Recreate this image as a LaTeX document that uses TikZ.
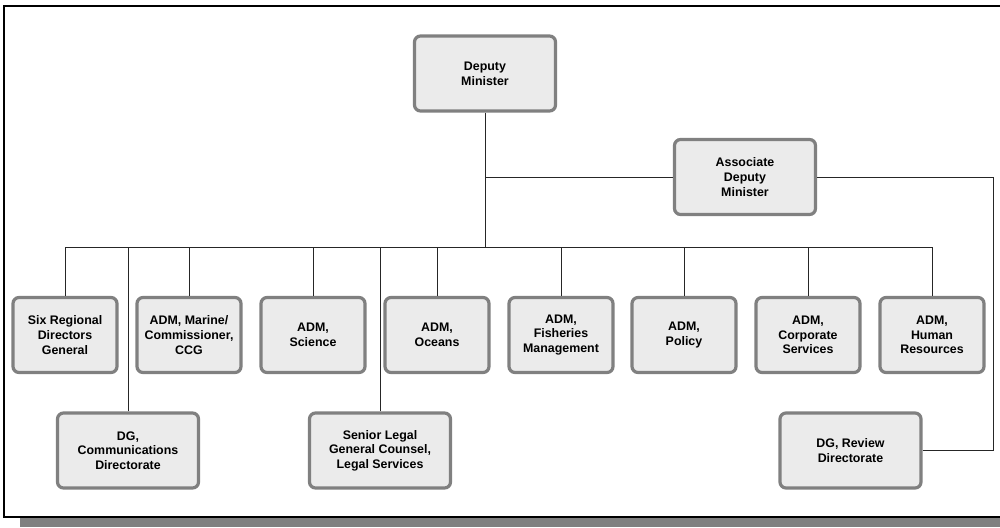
\documentclass[tikz,border=0pt]{standalone}
\usepackage{fontspec}
\setmainfont{Liberation Sans}
\usepackage{xcolor}

\tikzset{
  orgbox/.style={draw=black!50, line width=3.2pt, fill=black!8, rounded corners=6pt,
    align=center, font=\bfseries\fontsize{12.4}{14.6}\selectfont, inner sep=0pt},
  wide/.style={orgbox, minimum width=141pt, minimum height=75pt},
  narrow/.style={orgbox, minimum width=104pt, minimum height=75pt},
  link/.style={draw=black!85, line width=0.9pt}
}

\begin{document}
\begin{tikzpicture}[x=1pt,y=-1pt]
    \useasboundingbox (0,0) rectangle (1000,527);

    \begin{scope}
    \clip (0,0) rectangle (1000,527);
    % frame and its shadow
    \fill[black!50] (20,518) rectangle (1010,527);
    \draw[line width=1.6pt] (4,6) rectangle (1010,517);
    \end{scope}

    \node[wide] (dm) at (485,73.5) {Deputy\\Minister};
    \node[wide] (adm) at (745,177) {Associate\\Deputy\\Minister};

    \node[narrow] (rdg) at (65,335) {Six Regional\\Directors\\General};
    \node[narrow] (ccg) at (189,335) {ADM, Marine/\\Commissioner,\\CCG};
    \node[narrow] (sci) at (313,335) {ADM,\\Science};
    \node[narrow] (oce) at (437,335) {ADM,\\Oceans};
    \node[narrow] (fish) at (561,335) {ADM,\\Fisheries\\Management};
    \node[narrow] (pol) at (684,335) {ADM,\\Policy};
    \node[narrow] (corp) at (808,335) {ADM,\\Corporate\\Services};
    \node[narrow] (hr) at (932,335) {ADM,\\Human\\Resources};

    \node[wide] (comm) at (128,450.5) {DG,\\Communications\\Directorate};
    \node[wide] (legal) at (380,450.5) {Senior Legal\\General Counsel,\\Legal Services};
    \node[wide] (rev) at (850.5,450.5) {DG, Review\\Directorate};

    \coordinate (bus) at (480,247);
    \coordinate (rv) at (993,177);

    % main trunk
    \draw[link] (dm.south) -- (dm.south |- bus);
    \draw[link] (dm.south |- adm.west) -- (adm.west);
    \draw[link] (adm.east) -- (rv) |- (rev.east);
    \draw[link] (rdg.north |- bus) -- (hr.north |- bus);

    % drops to the ADMs
    \draw[link] (rdg.north) -- (rdg.north |- bus);
    \draw[link] (ccg.north) -- (ccg.north |- bus);
    \draw[link] (sci.north) -- (sci.north |- bus);
    \draw[link] (oce.north) -- (oce.north |- bus);
    \draw[link] (fish.north) -- (fish.north |- bus);
    \draw[link] (pol.north) -- (pol.north |- bus);
    \draw[link] (corp.north) -- (corp.north |- bus);
    \draw[link] (hr.north) -- (hr.north |- bus);

    % second row
    \draw[link] (comm.north) -- (comm.north |- bus);
    \draw[link] (legal.north) -- (legal.north |- bus);
\end{tikzpicture}
\end{document}
